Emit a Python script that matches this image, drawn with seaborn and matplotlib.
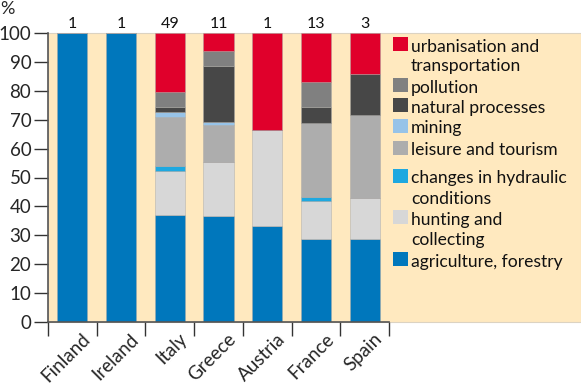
import matplotlib
matplotlib.use("Agg")
import matplotlib.pyplot as plt
import matplotlib.transforms as mtransforms
from matplotlib.patches import Rectangle
import seaborn as sns
import numpy as np

countries = ["Finland", "Ireland", "Italy", "Greece", "Austria", "France", "Spain"]
counts = [1, 1, 49, 11, 1, 13, 3]

agriculture = [100, 100, 37.0, 36.7, 33.3, 28.8, 28.6]
hunting = [0, 0, 15.4, 18.7, 33.3, 13.0, 14.3]
hydraulic = [0, 0, 1.6, 0, 0, 1.3, 0]
leisure = [0, 0, 17.0, 12.7, 0, 25.6, 28.6]
mining = [0, 0, 1.7, 1.0, 0, 0, 0]
natural = [0, 0, 1.6, 19.6, 0, 5.8, 14.3]
pollution = [0, 0, 5.2, 5.1, 0, 8.5, 0]
urban = [0, 0, 20.5, 6.2, 33.3, 17.0, 14.3]

series_labels = ["agriculture, forestry", "hunting and\ncollecting",
                 "changes in hydraulic\nconditions", "leisure and tourism",
                 "mining", "natural processes", "pollution",
                 "urbanisation and\ntransportation"]
series_values = [agriculture, hunting, hydraulic, leisure, mining, natural,
                 pollution, urban]
colors = ["#0077BC", "#D7D7D7", "#1EA8E0", "#ADADAD", "#97C3E8", "#474747",
          "#808080", "#E0002B"]

sns.set_theme(style="white")
plt.rcParams['font.family'] = ['Lato', 'DejaVu Sans']

W, H = 581, 384
fig = plt.figure(figsize=(W / 100, H / 100), dpi=100)
beige = "#FFE9BF"

# background panel (plot + legend area)
x0, x1, ytop, ybot = 48, 580.5, 33, 322
bg = Rectangle((x0 / W, 1 - ybot / H), (x1 - x0) / W, (ybot - ytop) / H,
               transform=fig.transFigure, facecolor=beige,
               edgecolor="#DCD3C2", linewidth=0.8, zorder=-5)
fig.patches.append(bg)

ax = fig.add_axes([48 / W, 1 - 322 / H, (389 - 48) / W, (322 - 33) / H])
ax.set_zorder(2)
ax.patch.set_alpha(0)

bottom = np.zeros(len(countries))
for vals, col in zip(series_values, colors):
    sns.barplot(x=countries, y=vals, bottom=bottom, color=col, width=0.62,
                errorbar=None, ax=ax, saturation=1,
                edgecolor=(0.65, 0.65, 0.65, 0.6), linewidth=0.5)
    bottom = bottom + np.array(vals)

ax.set_xlim(-0.5, len(countries) - 0.5)
ax.set_ylim(0, 100)
ax.set_yticks(np.arange(0, 101, 10))
ax.tick_params(axis='y', length=10, width=1, color="#333333", labelsize=13.5,
               pad=2, left=True, direction='out')
ax.set_xticks(np.arange(len(countries)))
ax.set_xticklabels(countries, rotation=45, ha='right', rotation_mode='anchor',
                   fontsize=13.5)
ax.tick_params(axis='x', length=0, pad=6)
shift = mtransforms.ScaledTranslation(9 / 100, 0, fig.dpi_scale_trans)
for lab in ax.get_xticklabels():
    lab.set_transform(lab.get_transform() + shift)
ax.set_xticks(np.arange(-0.5, len(countries), 1), minor=True)
ax.tick_params(axis='x', which='minor', length=10, width=1, color="#333333",
               bottom=True, direction='out')
for s in ['top', 'right']:
    ax.spines[s].set_visible(False)
for s in ['left', 'bottom']:
    ax.spines[s].set_color("#555555")
    ax.spines[s].set_linewidth(1.2)
ax.set_xlabel("")
ax.set_ylabel("")

for i, c in enumerate(counts):
    ax.annotate(str(c), (i, 100), xytext=(0, 1.5), textcoords="offset points",
                ha='center', va='bottom', fontsize=11.5, color="#111111",
                annotation_clip=False)

fig.text(0 / W, 1 - 9 / H, "%", fontsize=13, va='center', ha='left')

# legend (top to bottom)
leg_order = list(range(len(series_labels)))[::-1]
leg_y = [44, 85, 105, 126, 148, 176, 217, 259]
for k, y in zip(leg_order, leg_y):
    fig.patches.append(Rectangle((393 / W, 1 - (y + 7) / H), 14.5 / W, 14 / H,
                                 transform=fig.transFigure, facecolor=colors[k],
                                 edgecolor='none', zorder=2))
    for j, line in enumerate(series_labels[k].split("\n")):
        fig.text(411 / W, 1 - (y + 1 + 20 * j) / H, line, fontsize=12.6,
                 va='center_baseline', ha='left', color="#111111")

fig.savefig("out.png", dpi=100)
